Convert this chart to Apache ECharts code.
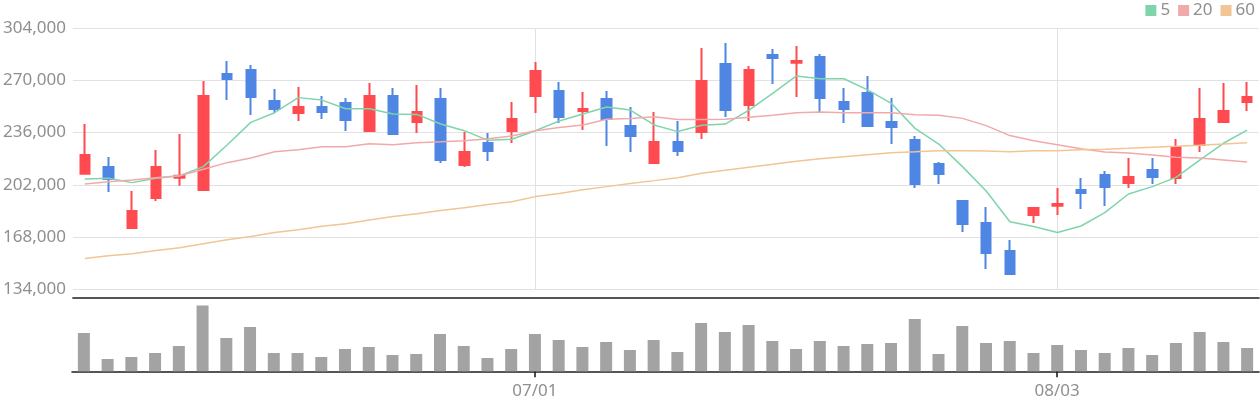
<!DOCTYPE html>
<html>
<head>
<meta charset="utf-8">
<script src="https://cdn.jsdelivr.net/npm/echarts@6/dist/echarts.min.js"></script>
<style>
html,body{margin:0;padding:0;background:#fff;}
#chart{width:1260px;height:400px;}
</style>
</head>
<body>
<div id="chart"></div>
<script>
const categories = ['06/04','06/05','06/08','06/09','06/10','06/11','06/12','06/15','06/16','06/17','06/18','06/19','06/22','06/23','06/24','06/25','06/26','06/29','06/30','07/01','07/02','07/03','07/06','07/07','07/08','07/09','07/10','07/13','07/14','07/15','07/16','07/17','07/21','07/22','07/23','07/24','07/27','07/28','07/29','07/30','07/31','08/03','08/04','08/05','08/06','08/07','08/10','08/11','08/12','08/13'];
const shownDates = ['07/01','08/03'];
const yTicks = [134000,168000,202000,236000,270000,304000];

const openVals = [209200,213600,173900,193400,206600,198600,274000,276600,256500,248700,252600,255200,237000,259700,242800,257800,214900,229200,237000,259700,263000,250000,257800,240200,216200,229800,236300,280600,253900,286400,281400,285100,255800,261700,242800,231100,215500,191500,177100,158900,182300,188400,198600,208400,203200,211600,206400,227900,242800,255800];
const closeVals = [221400,205800,185000,213600,207900,259700,270800,259100,251300,252600,249300,244100,259700,235000,249300,218100,223300,224000,244800,276000,246100,251300,244800,233700,229800,224000,269500,250600,276700,284500,282500,258400,251300,240200,239600,202500,209000,176500,157600,144000,186900,189500,196700,200600,207100,207100,226600,244800,250000,259100];
const lowVals = [208600,197300,173900,191500,201400,198600,257100,247400,248700,243500,244800,237000,237000,235000,235700,216200,213600,217500,229200,248700,242200,237600,227200,223300,216200,220700,231800,246100,243500,267600,259100,249300,242200,239600,228500,199900,202500,171300,147200,144000,177100,182300,186200,188200,199900,202500,202500,223300,242800,250000];
const highVals = [241500,220100,198000,224600,235000,269500,282500,279900,264300,265600,259700,258400,268200,265000,266900,265000,236300,235700,255800,281900,268900,262400,263000,252600,249300,243500,291000,294200,279300,290300,292300,287100,265000,272800,258400,233700,216800,192100,187600,166100,186900,199900,206400,211000,219400,219400,231800,265000,268200,268900];

const ma5 = [205800,206200,203400,206200,207900,213800,227900,242600,248900,258700,257100,251500,251500,248000,247800,241500,237200,230900,231600,237200,243500,248000,252600,250600,240900,236600,240700,241500,250600,261500,272800,271000,271000,263700,255000,238700,228500,213800,198000,178000,174800,170900,175200,183900,196000,200800,206800,218100,229000,237600];
const ma20 = [202500,204000,205100,206600,207900,212100,216400,219400,223500,224800,226800,226800,228700,228100,229400,230000,230700,232000,233700,237200,239200,240900,244600,245200,246300,244400,244400,244600,245900,247200,248900,249300,248900,248900,248900,247600,247200,245200,240500,234000,230700,228100,225500,223300,222700,221400,219900,219400,218100,216800];
const ma60 = [154000,155900,157200,159200,161100,163700,166300,168300,170900,172800,175000,176700,179100,181300,183200,185200,187100,189100,191000,194300,196400,198800,200800,202900,204700,206600,209500,211400,213400,215300,217300,219000,220300,221600,222900,223500,224200,224200,224000,223500,224200,224200,224800,225100,225700,226400,227000,227700,228500,229400];

const volumes = [38300,12300,14300,18300,25300,65700,33300,44300,18300,18300,14300,22300,24300,16300,17300,37300,25300,13300,22300,37300,31300,24300,29300,21300,31300,19300,48300,39300,46300,30300,22300,30300,25300,27300,28300,52300,17300,45300,28300,30300,18300,26300,21300,18300,23300,16300,28300,39300,29300,23300];

const candleData = categories.map((c, i) => [openVals[i], closeVals[i], lowVals[i], highVals[i]]);
const showAt = (idx, val) => shownDates.indexOf(val) >= 0;
const FONT = 'Noto Sans';
const UP = '#ff4b4f', DOWN = '#4f86e4';

const chart = echarts.init(document.getElementById('chart'), null, {renderer: 'canvas'});
chart.setOption({
  animation: false,
  backgroundColor: '#ffffff',
  textStyle: {fontFamily: FONT},
  legend: {
    data: ['5', '20', '60'],
    right: 0, top: -3,
    icon: 'rect', itemWidth: 11, itemHeight: 11, itemGap: 8,
    textStyle: {color: '#8f8f8f', fontSize: 17, fontFamily: FONT, padding: [0, 0, 0, -1]},
    selectedMode: false
  },
  grid: [
    {left: 72, right: 1, top: 28, height: 261.3},
    {left: 72, right: 1, top: 297, height: 74.3}
  ],
  xAxis: [
    {
      type: 'category', gridIndex: 0, data: categories, boundaryGap: true,
      offset: 8,
      axisLine: {show: true, lineStyle: {color: '#1e1e1e', width: 1.6}},
      axisTick: {show: false},
      axisLabel: {show: false},
      splitLine: {show: true, interval: showAt, alignWithLabel: true, lineStyle: {color: '#e2e2e2', width: 1}}
    },
    {
      type: 'category', gridIndex: 1, data: categories, boundaryGap: true,
      axisLine: {show: true, lineStyle: {color: '#1e1e1e', width: 1.6}},
      axisTick: {show: true, interval: showAt, alignWithLabel: true, length: 6, lineStyle: {color: '#1e1e1e', width: 1.6}},
      axisLabel: {show: true, interval: showAt, color: '#8f8f8f', fontSize: 17, fontFamily: FONT, margin: 11},
      splitLine: {show: false}
    }
  ],
  yAxis: [
    {
      type: 'value', gridIndex: 0, min: yTicks[0], max: yTicks[yTicks.length - 1], interval: 34000,
      axisLine: {show: false}, axisTick: {show: false},
      axisLabel: {color: '#8f8f8f', fontSize: 17, fontFamily: FONT, margin: 7,
        formatter: v => v.toLocaleString('en-US')},
      splitLine: {show: true, lineStyle: {color: '#e2e2e2', width: 1}}
    },
    {
      type: 'value', gridIndex: 1, min: 0, max: 74300,
      axisLine: {show: false}, axisTick: {show: false}, axisLabel: {show: false},
      splitLine: {show: false}
    }
  ],
  series: [
    {
      name: 'K', type: 'candlestick', xAxisIndex: 0, yAxisIndex: 0,
      data: candleData, barWidth: 10,
      itemStyle: {color: UP, color0: DOWN, borderColor: UP, borderColor0: DOWN, borderWidth: 2}
    },
    {name: '5', type: 'line', data: ma5, showSymbol: false, symbol: 'none',
      itemStyle: {color: '#7fd4ab'}, lineStyle: {color: '#7fd4ab', width: 1.5}},
    {name: '20', type: 'line', data: ma20, showSymbol: false, symbol: 'none',
      itemStyle: {color: '#f2a9a9'}, lineStyle: {color: '#f2a9a9', width: 1.5}},
    {name: '60', type: 'line', data: ma60, showSymbol: false, symbol: 'none',
      itemStyle: {color: '#f2c595'}, lineStyle: {color: '#f2c595', width: 1.5}},
    {
      name: 'Volume', type: 'bar', xAxisIndex: 1, yAxisIndex: 1, data: volumes,
      barWidth: 12, itemStyle: {color: '#a3a3a3'}
    }
  ]
});
</script>
</body>
</html>
